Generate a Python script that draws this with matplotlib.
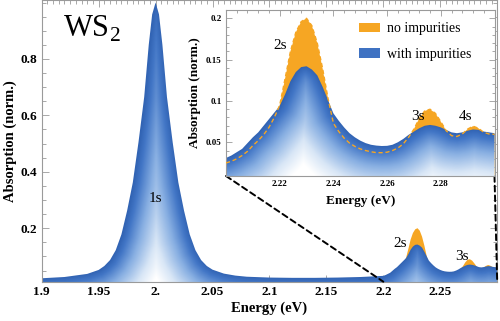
import numpy as np
import matplotlib
matplotlib.use("Agg")
import matplotlib.pyplot as plt
from matplotlib.colors import LinearSegmentedColormap
from matplotlib.patches import ConnectionPatch, Patch
from matplotlib.ticker import MultipleLocator

plt.rcParams["font.family"] = ["Liberation Serif", "DejaVu Serif"]
plt.rcParams["mathtext.fontset"] = "custom"
plt.rcParams["mathtext.rm"] = "Liberation Serif"

# --- data ---
# 1s region, both curves coincide here
energy_1s = [1.900, 1.920, 1.940, 1.950, 1.955, 1.960, 1.965, 1.970, 1.975, 1.980,
             1.985, 1.990, 1.994, 1.997, 2.000, 2.003, 2.006, 2.010, 2.015, 2.020,
             2.025, 2.030, 2.035, 2.040, 2.045, 2.050, 2.060, 2.070, 2.080, 2.100,
             2.120, 2.140, 2.160, 2.180, 2.190]
absorption_1s = [0.0225, 0.027, 0.038, 0.052, 0.066, 0.087, 0.122, 0.178, 0.262, 0.362,
                 0.505, 0.665, 0.850, 0.958, 1.000, 0.958, 0.850, 0.665, 0.505, 0.362,
                 0.262, 0.178, 0.122, 0.087, 0.066, 0.053, 0.039, 0.032, 0.028, 0.025,
                 0.024, 0.024, 0.025, 0.027, 0.029]

# Rydberg region 2.2 - 2.3 eV
energy_ryd = [2.200, 2.202, 2.204, 2.206, 2.208, 2.210, 2.212, 2.214, 2.216, 2.218,
              2.220, 2.222, 2.224, 2.226, 2.228, 2.230, 2.232, 2.234, 2.236, 2.238,
              2.240, 2.242, 2.244, 2.246, 2.248, 2.250, 2.252, 2.254, 2.256, 2.258,
              2.260, 2.262, 2.264, 2.266, 2.268, 2.270, 2.272, 2.274, 2.276, 2.278,
              2.280, 2.282, 2.284, 2.286, 2.288, 2.290, 2.292, 2.294, 2.296, 2.298,
              2.300]
no_impurities = [0.025, 0.027, 0.030, 0.034, 0.039, 0.046, 0.052, 0.059, 0.068, 0.080,
                 0.095, 0.127, 0.160, 0.183, 0.196, 0.200, 0.191, 0.170, 0.139, 0.103,
                 0.073, 0.063, 0.055, 0.049, 0.045, 0.042, 0.040, 0.0385, 0.0375, 0.0374,
                 0.038, 0.040, 0.043, 0.048, 0.056, 0.066, 0.079, 0.088, 0.090, 0.085,
                 0.075, 0.064, 0.058, 0.057, 0.060, 0.066, 0.0695, 0.067, 0.062, 0.060,
                 0.0597]
with_impurities = [0.031, 0.034, 0.038, 0.042, 0.049, 0.056, 0.062, 0.070, 0.078, 0.086,
                   0.094, 0.108, 0.124, 0.135, 0.141, 0.142, 0.138, 0.131, 0.117, 0.101,
                   0.085, 0.076, 0.068, 0.061, 0.056, 0.052, 0.049, 0.047, 0.046, 0.0455,
                   0.0457, 0.047, 0.050, 0.054, 0.059, 0.063, 0.067, 0.070, 0.071, 0.070,
                   0.068, 0.065, 0.062, 0.061, 0.062, 0.064, 0.0655, 0.065, 0.063, 0.062,
                   0.061]

main_xticks = [1.9, 1.95, 2.0, 2.05, 2.1, 2.15, 2.2, 2.25]
main_xlabels = ["1.9", "1.95", "2.", "2.05", "2.1", "2.15", "2.2", "2.25"]
main_yticks = [0.2, 0.4, 0.6, 0.8]
main_ylabels = ["0.2", "0.4", "0.6", "0.8"]
inset_xticks = [2.22, 2.24, 2.26, 2.28]
inset_xlabels = ["2.22", "2.24", "2.26", "2.28"]
inset_yticks = [0.05, 0.1, 0.15, 0.2]
inset_ylabels = ["0.05", "0.1", "0.15", "0.2"]

ORANGE = "#f6a623"
BLUE = "#3f72c2"
FRAME = "#9a9a9a"
blue_cmap = LinearSegmentedColormap.from_list(
    "ws_blue", [(0, "#3163b3"), (0.12, "#4276c6"), (0.38, "#88afe2"),
                (0.72, "#d8e6f6"), (1, "#ffffff")])


def shade_under(ax, x, y, reach):
    # blue fill whose colour fades with pixel distance from the curve
    x = np.asarray(x)
    y = np.asarray(y)
    poly = ax.fill_between(x, -1, y, facecolor="none", edgecolor="none")
    bb = ax.bbox
    gx = np.linspace(bb.x0, bb.x1, int(bb.width))
    gy = np.linspace(bb.y0, bb.y1, int(bb.height))
    GX, GY = np.meshgrid(gx, gy)
    pts = ax.transData.transform(np.column_stack([x, y]))
    dist = np.full(GX.shape, np.inf)
    for (x0, y0), (x1, y1) in zip(pts[:-1], pts[1:]):
        dx, dy = x1 - x0, y1 - y0
        t = np.clip(((GX - x0) * dx + (GY - y0) * dy) / (dx * dx + dy * dy), 0, 1)
        dist = np.minimum(dist, np.hypot(GX - x0 - t * dx, GY - y0 - t * dy))
    xl, yl = ax.get_xlim(), ax.get_ylim()
    im = ax.imshow(np.clip(dist / reach, 0, 1), cmap=blue_cmap, vmin=0, vmax=1,
                   origin="lower", extent=(xl[0], xl[1], yl[0], yl[1]),
                   aspect="auto", interpolation="bilinear", zorder=2)
    im.set_clip_path(poly.get_paths()[0], transform=ax.transData)
    ax.set_xlim(xl)
    ax.set_ylim(yl)


def style_frame(ax, xminor, yminor, major_len, minor_len, size):
    for s in ax.spines.values():
        s.set_color(FRAME)
        s.set_linewidth(0.8)
    ax.xaxis.set_minor_locator(MultipleLocator(xminor))
    ax.yaxis.set_minor_locator(MultipleLocator(yminor))
    ax.tick_params(which="both", direction="in", top=True, right=True,
                   color=FRAME, width=0.6, labelsize=size)
    ax.tick_params(which="major", length=major_len, pad=3)
    ax.tick_params(which="minor", length=minor_len)
    for lab in ax.get_xticklabels() + ax.get_yticklabels():
        lab.set_fontweight("bold")


fig = plt.figure(figsize=(5, 3.21), dpi=100)

# --- main panel ---
ax = fig.add_axes([0.0834, 0.1224, 0.911, 0.8776])
ax.set_xlim(1.9, 2.3)
ax.set_ylim(0.0103, 1.009)
ax.set_xticks(main_xticks)
ax.set_xticklabels(main_xlabels)
ax.set_yticks(main_yticks)
ax.set_yticklabels(main_ylabels)
style_frame(ax, 0.005, 0.05, 5, 3, 9.5)

ax.fill_between(energy_ryd, -1, no_impurities, color=ORANGE, lw=0, zorder=1)
shade_under(ax, energy_1s + energy_ryd, absorption_1s + with_impurities, 48)

ax.set_xlabel("Energy (eV)", fontsize=10.5, fontweight="bold")
ax.xaxis.set_label_coords(0.5, -0.072)
ax.set_ylabel("Absorption (norm.)", fontsize=10.5, fontweight="bold")
ax.yaxis.set_label_coords(-0.054, 0.5)
ax.text(0.047, 0.869, r"$\mathrm{WS}_2$", transform=ax.transAxes, fontsize=22,
        va="baseline")
ax.text(2.0, 0.307, "1s", fontsize=11, ha="center", va="center", zorder=5)
ax.text(2.215, 0.147, "2s", fontsize=11, ha="center", va="center", zorder=5)
ax.text(2.269, 0.101, "3s", fontsize=11, ha="center", va="center", zorder=5)

# --- inset ---
ins = fig.add_axes([0.452, 0.4517, 0.537, 0.517])
ins.set_facecolor("white")
ins.set_zorder(5)
ins.set_xlim(2.2, 2.3)
ins.set_ylim(0.0092, 0.210)
ins.set_xticks(inset_xticks)
ins.set_xticklabels(inset_xlabels)
ins.set_yticks(inset_yticks)
ins.set_yticklabels(inset_ylabels)
style_frame(ins, 0.004, 0.01, 4, 2.5, 6.5)

ins.fill_between(energy_ryd, -1, no_impurities, color=ORANGE, lw=0, zorder=1)
shade_under(ins, energy_ryd, with_impurities, 55)
ins.plot(energy_ryd, no_impurities, color=ORANGE, lw=1.0, ls=(0, (3, 2)), zorder=3)

ins.set_xlabel("Energy (eV)", fontsize=9.5, fontweight="bold", labelpad=5)
ins.set_ylabel("Absorption (norm.)", fontsize=9.5, fontweight="bold", labelpad=4)
ins.text(2.2201, 0.1665, "2s", fontsize=11, ha="center", va="center", zorder=5)
ins.text(2.2713, 0.0806, "3s", fontsize=11, ha="center", va="center", zorder=5)
ins.text(2.2893, 0.0806, "4s", fontsize=11, ha="center", va="center", zorder=5)

handles = [Patch(facecolor=ORANGE, label="no impurities"),
           Patch(facecolor=BLUE, label="with impurities")]
ins.legend(handles=handles, loc="upper left", bbox_to_anchor=(0.46, 0.985),
           frameon=False, fontsize=10, handlelength=1.5, handleheight=0.65,
           handletextpad=0.5, labelspacing=0.9, borderaxespad=0.3)

# dashed zoom connectors
for ex in (2.2, 2.3):
    con = ConnectionPatch(xyA=(ex, 0.0092), coordsA=ins.transData,
                          xyB=(ex, 0.0103), coordsB=ax.transData,
                          color="black", lw=1.4, ls=(0, (3, 2)), zorder=4)
    fig.add_artist(con)

fig.savefig("out.png", dpi=100)
